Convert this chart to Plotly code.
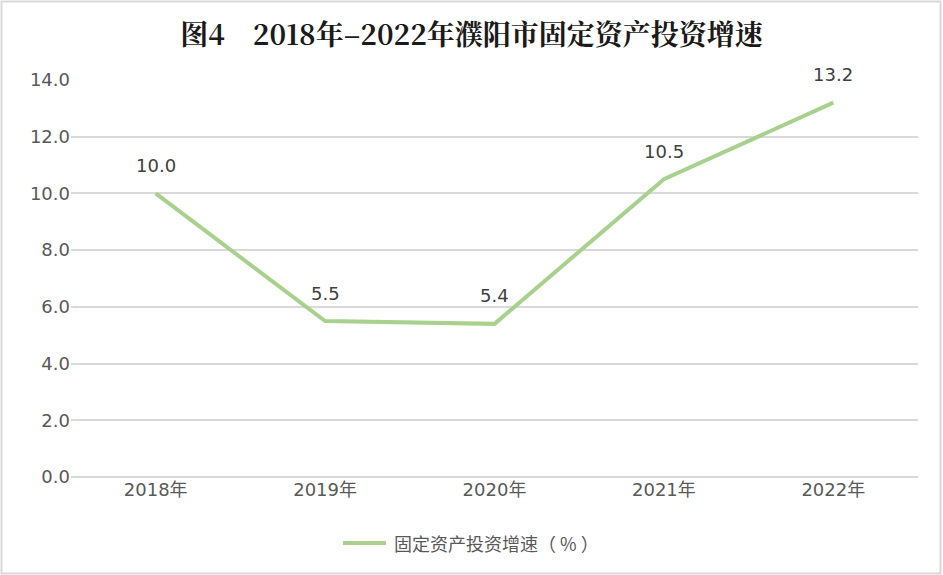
import plotly.graph_objects as go

# 数据
years = ["2018年", "2019年", "2020年", "2021年", "2022年"]
growth = [10.0, 5.5, 5.4, 10.5, 13.2]
y_ticks = [0, 2, 4, 6, 8, 10, 12, 14]

title_text = "图4　2018年–2022年濮阳市固定资产投资增速"
series_name = "固定资产投资增速（ % ）"
line_color = "#a9d18e"

W, H = 943, 575
L, R, T, B = 71, 25, 80, 98
plot_w = W - L - R
plot_h = H - T - B


def px_to_paper(px, py):
    return (px - L) / plot_w, (H - B - py) / plot_h


fig = go.Figure()
fig.add_trace(go.Scatter(
    x=years, y=growth, mode="lines", name=series_name,
    line=dict(color=line_color, width=4), showlegend=False,
))

for xv, yv in zip(years, growth):
    fig.add_annotation(
        x=xv, y=yv, text=f"{yv:.1f}", showarrow=False, yshift=28,
        font=dict(size=18, color="#404040", family="DejaVu Sans"),
    )

# 外框
x0, y0 = px_to_paper(1.5, 573.5)
x1, y1 = px_to_paper(940.5, 1.5)
fig.add_shape(type="rect", xref="paper", yref="paper",
              x0=x0, y0=y0, x1=x1, y1=y1,
              line=dict(color="#d9d9d9", width=2))

# 图例（plotly 自带的图例线段太短，这里自己画）
lx0, ly = px_to_paper(343, 543)
lx1, _ = px_to_paper(386, 543)
fig.add_shape(type="line", xref="paper", yref="paper",
              x0=lx0, y0=ly, x1=lx1, y1=ly,
              line=dict(color=line_color, width=4))
tx, _ = px_to_paper(392, 543)
fig.add_annotation(
    xref="paper", yref="paper", x=tx, y=ly, xanchor="left", yanchor="middle",
    text=series_name, showarrow=False,
    font=dict(size=18, color="#595959", family="Noto Sans CJK SC"),
)

fig.update_layout(
    width=W, height=H,
    margin=dict(l=L, r=R, t=T, b=B),
    paper_bgcolor="white", plot_bgcolor="white",
    title=dict(
        text=f"<b>{title_text}</b>", x=0.5, xref="container", xanchor="center",
        y=1 - 35 / H, yanchor="middle",
        font=dict(size=28, color="#1a1a1a", family="Noto Serif CJK SC, Noto Sans CJK SC"),
    ),
    showlegend=False,
    font=dict(family="DejaVu Sans, Noto Sans CJK SC", color="#595959"),
)

fig.update_xaxes(
    type="category", range=[-0.5, 4.5], showgrid=False, zeroline=False,
    showline=False, ticks="", tickfont=dict(size=18, color="#595959"),
)
fig.update_yaxes(
    range=[0, 14], tickvals=y_ticks, tickformat=".1f",
    showgrid=True, gridcolor="#d9d9d9", gridwidth=1.5,
    zeroline=True, zerolinecolor="#d9d9d9", zerolinewidth=1.5,
    showline=False, ticks="", ticklen=0,
    tickfont=dict(size=18, color="#595959"),
)

# 页面默认 body 留白 8px，去掉
fig.write_html("out.html", config={"displayModeBar": False},
               post_script="document.body.style.margin='0';")
